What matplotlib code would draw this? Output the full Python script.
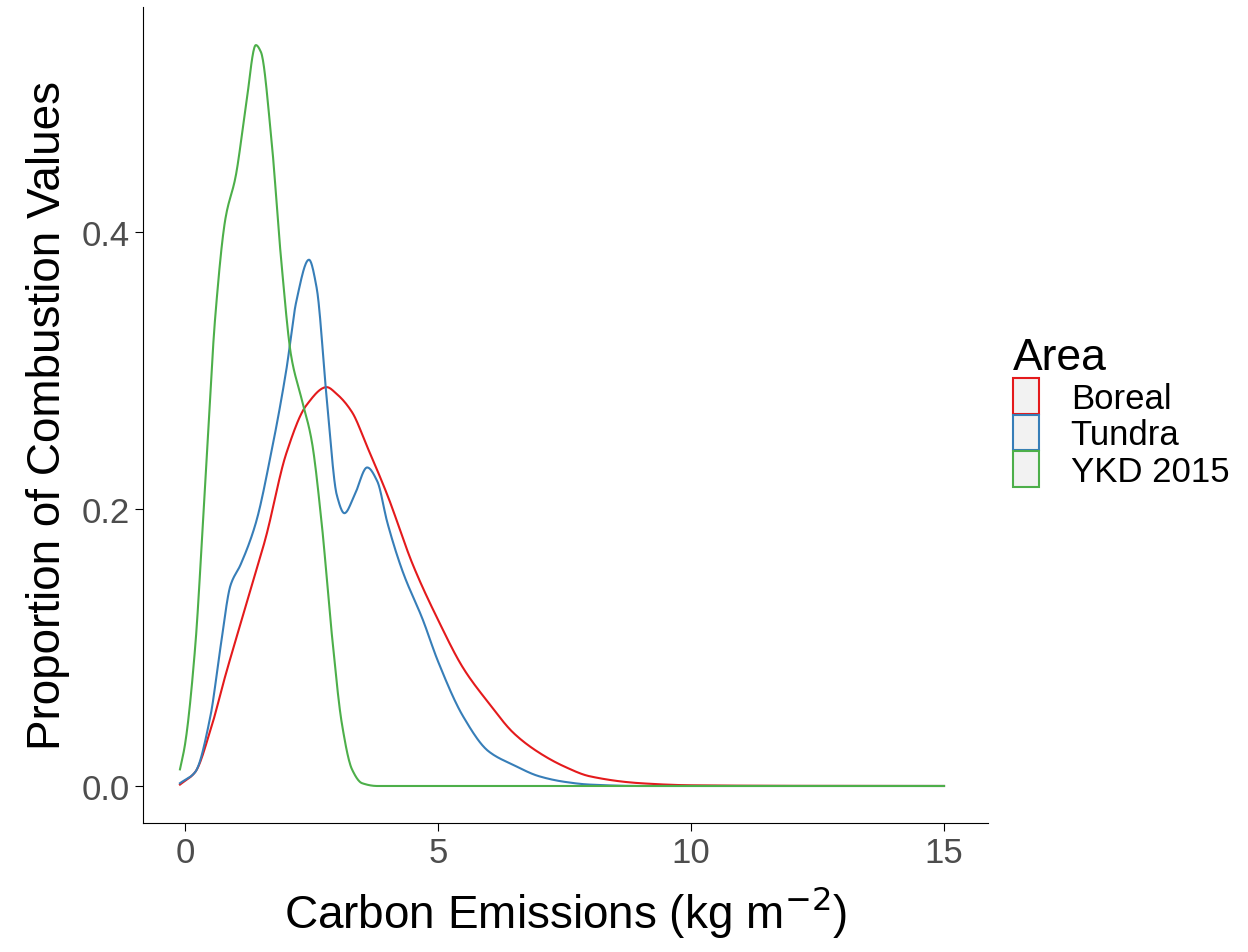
import matplotlib
matplotlib.use("Agg")
import matplotlib.pyplot as plt
from matplotlib.patches import Patch
import numpy as np

plt.rcParams['font.family'] = ['Liberation Sans', 'DejaVu Sans']

ykd_x = [-0.1,0,0.2,0.4,0.6,0.8,1.0,1.2,1.4,1.5,1.7,1.9,2.1,2.3,2.5,2.7,2.9,3.1,3.3,3.5,3.8,15]
ykd_y = [0.012,0.03,0.1,0.22,0.34,0.41,0.44,0.49,0.535,0.53,0.47,0.38,0.31,0.28,0.25,0.19,0.11,0.045,0.012,0.002,0,0]
tun_x = [-0.1,0.2,0.5,0.7,0.9,1.1,1.4,1.7,2.0,2.2,2.45,2.6,2.8,3.0,3.15,3.35,3.6,3.8,4.0,4.3,4.7,5.0,5.5,6.0,6.5,7.0,7.5,8,9,15]
tun_y = [0.002,0.01,0.05,0.1,0.145,0.16,0.19,0.24,0.3,0.35,0.38,0.36,0.28,0.21,0.197,0.21,0.23,0.22,0.19,0.155,0.12,0.09,0.05,0.025,0.015,0.007,0.003,0.001,0,0]
bor_x = [-0.1,0.2,0.5,0.8,1.2,1.6,2.0,2.4,2.8,3.0,3.3,3.6,4.0,4.5,5.0,5.5,6.0,6.5,7.0,7.5,8.0,9.0,10,12,15]
bor_y = [0.001,0.01,0.04,0.08,0.13,0.18,0.24,0.275,0.288,0.283,0.27,0.245,0.21,0.16,0.12,0.085,0.06,0.038,0.024,0.014,0.007,0.002,0.0005,0.0001,0]
areas = ["Boreal","Tundra","YKD 2015"]
colors = ["#E41A1C","#377EB8","#4DAF4A"]

def smooth(xs, ys, n=20):
    x = np.asarray(xs, float); y = np.asarray(ys, float)
    h = np.diff(x); d = np.diff(y) / h
    m = np.zeros_like(y)
    for i in range(1, len(x) - 1):
        if d[i-1] * d[i] > 0:
            w1 = 2*h[i] + h[i-1]; w2 = h[i] + 2*h[i-1]
            m[i] = (w1 + w2) / (w1/d[i-1] + w2/d[i])
    m[0] = d[0]; m[-1] = d[-1]
    X = []; Y = []
    for i in range(len(x) - 1):
        t = np.linspace(0, 1, n, endpoint=False)
        h00 = 2*t**3 - 3*t**2 + 1; h10 = t**3 - 2*t**2 + t
        h01 = -2*t**3 + 3*t**2; h11 = t**3 - t**2
        X.append(x[i] + t*h[i])
        Y.append(h00*y[i] + h10*h[i]*m[i] + h01*y[i+1] + h11*h[i]*m[i+1])
    X.append([x[-1]]); Y.append([y[-1]])
    return np.concatenate(X), np.concatenate(Y)

fig = plt.figure(figsize=(12.48,9.53), dpi=100)
ax = fig.add_axes([0.1146,0.1354,0.6771,0.8562])
for (xs,ys),c in zip([(bor_x,bor_y),(tun_x,tun_y),(ykd_x,ykd_y)],colors):
    sx, sy = smooth(xs, ys)
    ax.plot(sx, sy, color=c, lw=1.5)
ax.set_xlim(-0.83,15.87)
ax.set_ylim(-0.0267,0.5625)
ax.set_xticks([0,5,10,15]); ax.set_yticks([0.0,0.2,0.4])
ax.set_yticklabels(["0.0","0.2","0.4"])
for s in ["top","right"]: ax.spines[s].set_visible(False)
ax.tick_params(labelsize=25, labelcolor="#4D4D4D", length=6)
ax.set_xlabel("Carbon Emissions (kg m$^{-2}$)", fontsize=33, labelpad=10)
ax.set_ylabel("Proportion of Combustion Values", fontsize=33, labelpad=8)
handles=[Patch(facecolor="#F2F2F2",edgecolor=c,lw=1.5) for c in colors]
fig.legend(handles,areas,title="Area",loc="upper left",bbox_to_anchor=(0.812,0.645),
           frameon=False,fontsize=25,title_fontsize=32,handlelength=0.75,handleheight=1.2,
           labelspacing=0.0,handletextpad=0.9,alignment="left",borderaxespad=0,borderpad=0)
fig.savefig("out.png")
